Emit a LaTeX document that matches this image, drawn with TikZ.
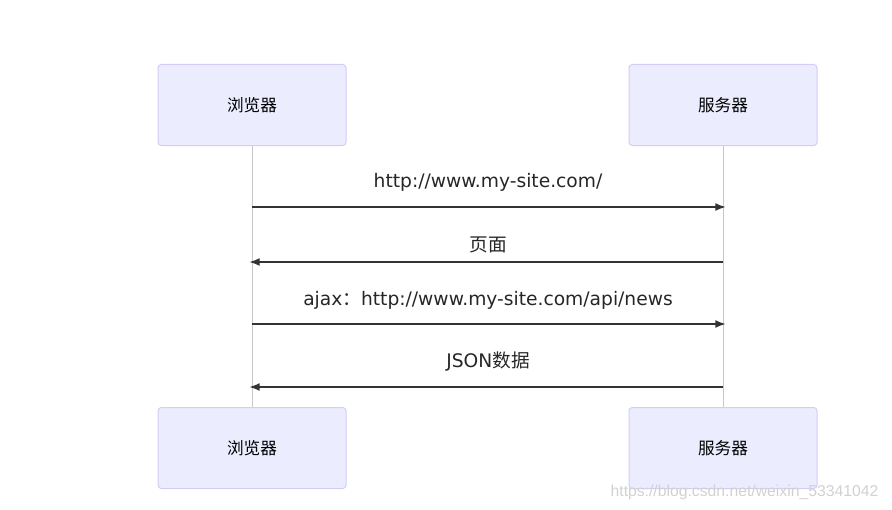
\documentclass[tikz,border=0pt]{standalone}
\usepackage{fontspec}
\setmainfont{Noto Sans CJK SC}
\newfontfamily\latinfont{DejaVu Sans}
\newfontfamily\markfont{Liberation Sans}
\usepackage{tikz}
\usetikzlibrary{arrows.meta,positioning}

\definecolor{actorfill}{HTML}{ECECFF}
\definecolor{actorline}{HTML}{D5CCF5}
\definecolor{lifeline}{HTML}{C8C8C8}
\definecolor{msgline}{HTML}{333333}

\newcommand\lat[1]{{\latinfont\fontsize{14}{16}\selectfont #1}}

\begin{document}
\begin{tikzpicture}[y=-0.75pt,x=0.75pt]
	\tikzset{
		actor/.style={draw=actorline, fill=actorfill, line width=0.75pt, rounded corners=2.5pt,
			minimum width=141pt, minimum height=60.75pt, font=\fontsize{12.5}{14}\selectfont},
		msg/.style={draw=msgline, line width=1.5pt, -{Latex[length=8pt,width=6pt]}},
		msglabel/.style={font=\fontsize{14}{16}\selectfont, text=black!85}
	}
	\useasboundingbox (0,0) rectangle (892,510);

	% lifelines first, boxes on top
	\draw [lifeline, line width=0.75pt] (252,145) -- (252,407);
	\draw [lifeline, line width=0.75pt] (723,145) -- (723,407);

	\node [actor] (browserTop) at (252,105) {浏览器};
	\node [actor] (serverTop)  at (723,105) {服务器};
	\node [actor] (browserBot) at (252,448) {浏览器};
	\node [actor] (serverBot)  at (723,448) {服务器};

	\coordinate (b1) at (252,207); \coordinate (s1) at (726,207);
	\coordinate (s2) at (723,262); \coordinate (b2) at (249,262);
	\coordinate (b3) at (252,324); \coordinate (s3) at (726,324);
	\coordinate (s4) at (723,387); \coordinate (b4) at (249,387);

	\draw [msg] (b1) -- (s1);
	\draw [msg] (s2) -- (b2);
	\draw [msg] (b3) -- (s3);
	\draw [msg] (s4) -- (b4);

	\node [msglabel] (req)  at (488,182) {\lat{http://www.my-site.com/}};
	\node [msglabel] (page) at (488,245) {页面};
	\node [msglabel] (ajax) at (488,300) {\lat{ajax}：\lat{http://www.my-site.com/api/news}};
	\node [msglabel] (json) at (488,362) {\lat{JSON}数据};

	\node [text=black!18, font=\markfont\fontsize{11.8}{14}\selectfont, anchor=east] (mark) at (883,492) {https://blog.csdn.net/weixin\_53341042};
\end{tikzpicture}
\end{document}
